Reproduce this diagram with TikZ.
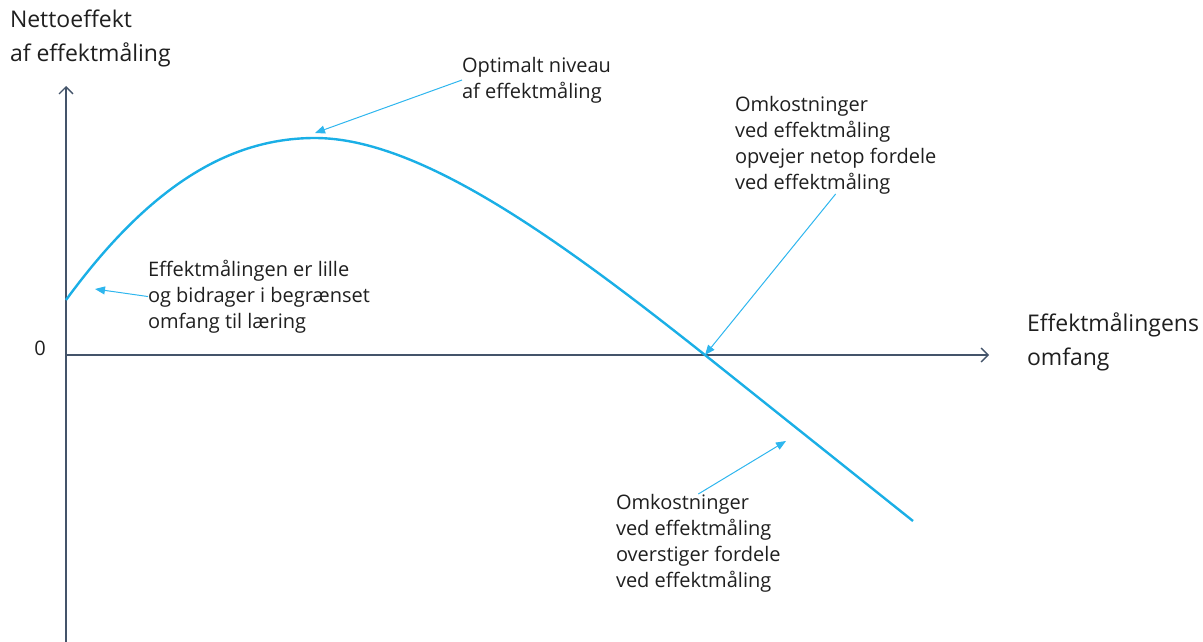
\documentclass[tikz,border=0pt]{standalone}
\usepackage{fontspec}
\setmainfont{Open Sans}
\usetikzlibrary{arrows.meta}
\definecolor{axisgray}{HTML}{44546A}
\definecolor{curveblue}{HTML}{1AAFE6}
\definecolor{noteblue}{HTML}{2EB6EE}
\begin{document}
\begin{tikzpicture}[x=1pt, y=-1pt, outer sep = 0pt, inner sep=0pt]

\tikzstyle{axis}=[draw=axisgray, line width=1.6pt, -{Straight Barb[length=7pt, width=14pt, line width=1.3pt]}]
\tikzstyle{note}=[align=left, font=\fontsize{20}{26}\selectfont, text=black!88, anchor=north west]
\tikzstyle{big}=[align=left, font=\fontsize{23}{34}\selectfont, text=black!88, anchor=north west]
\tikzstyle{pointer}=[draw=noteblue, line width=1pt, -{Triangle[length=10pt, width=8pt]}]

\useasboundingbox (0,0) rectangle (1203,642);

\coordinate (origin) at (66,355); \coordinate (ytop) at (66,86); \coordinate (ybot) at (66,642); \coordinate (xend) at (989,355);
\coordinate (start) at (66,300); \coordinate (peak) at (315,138); \coordinate (cross) at (705,355); \coordinate (tail) at (913,521);
\coordinate (lowpt) at (95,289); \coordinate (toppt) at (315,133); \coordinate (negpt) at (786,441);

\draw[axis] (ybot) -- (ytop);
\draw[axis] (origin) -- (xend);

\draw[curveblue, line width=2.4pt] (start) .. controls (150,185) and (230,138) .. (peak) .. controls (420,138) and (560,240) .. (cross) -- (tail);

\node[big] (ylabel) at (10,10) {Nettoeffekt\\af effektmåling};
\node[big] (xlabel) at (1027,313) {Effektmålingens\\omfang};
\node[note, anchor=base] (zero) at (40,355) {0};

\node[note] (lille) at (148,260) {Effektmålingen er lille\\og bidrager i begrænset\\omfang til læring};
\node[note] (optimal) at (462,57) {Optimalt niveau\\af effektmåling};
\node[note] (opvejer) at (735,96) {Omkostninger\\ved effektmåling\\opvejer netop fordele\\ved effektmåling};
\node[note] (overstiger) at (616,494) {Omkostninger\\ved effektmåling\\overstiger fordele\\ved effektmåling};

\draw[pointer] (lille.west) -- (lowpt);
\draw[pointer] (optimal.west) -- (toppt);
\draw[pointer] (opvejer.south) -- (cross);
\draw[pointer] (overstiger.north) -- (negpt);

\end{tikzpicture}
\end{document}
